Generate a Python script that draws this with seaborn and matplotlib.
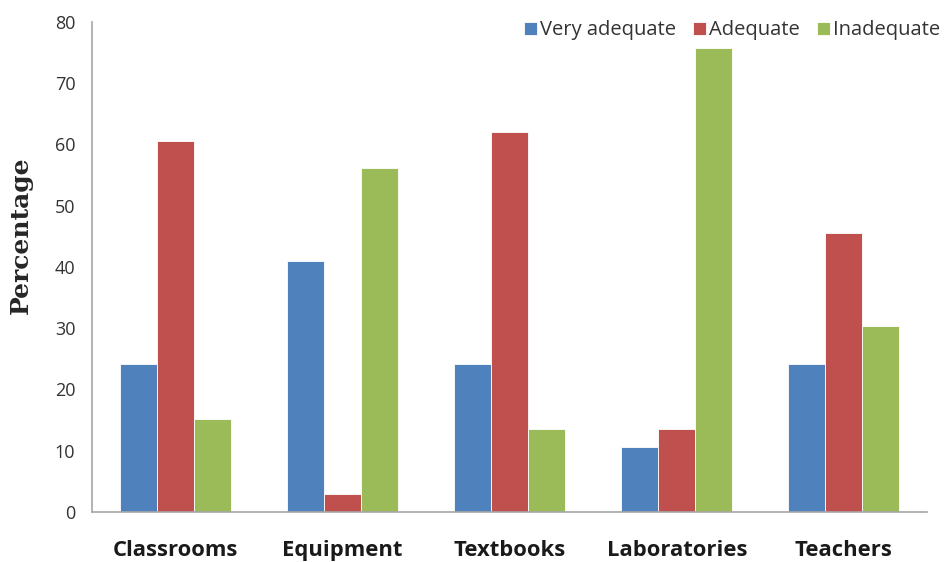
import matplotlib
matplotlib.use("Agg")
import matplotlib.pyplot as plt
import seaborn as sns
import pandas as pd

categories = ["Classrooms", "Equipment", "Textbooks", "Laboratories", "Teachers"]
series = ["Very adequate", "Adequate", "Inadequate"]
very_adequate = [24.2, 40.9, 24.2, 10.6, 24.2]
adequate = [60.6, 3.0, 62.1, 13.6, 45.5]
inadequate = [15.2, 56.1, 13.6, 75.8, 30.3]
colors = ["#4F81BD", "#C0504D", "#9BBB59"]
y_ticks = [0, 10, 20, 30, 40, 50, 60, 70, 80]

rows = []
for name, vals in zip(series, [very_adequate, adequate, inadequate]):
    for c, v in zip(categories, vals):
        rows.append({"Category": c, "Series": name, "Value": v})
df = pd.DataFrame(rows)

sns.set_theme(style="white")
fig = plt.figure(figsize=(9.46, 5.62), dpi=100)
ax = fig.add_axes([0.0973, 0.089, 0.883, 0.872])

sns.barplot(data=df, x="Category", y="Value", hue="Series", order=categories,
            hue_order=series, palette=colors, width=0.665, saturation=1,
            edgecolor="white", linewidth=0.6, ax=ax)

ax.set_xlim(-0.5, 4.5)
ax.set_ylim(0, 80)
ax.set_yticks(y_ticks)
ax.set_yticklabels([str(t) for t in y_ticks], fontsize=13, color="#333333",
                   family="Open Sans")
ax.set_xticks(range(len(categories)))
ax.set_xticklabels(categories, fontsize=15.8, fontweight="bold", color="#1a1a1a",
                   family="Open Sans")
ax.tick_params(axis="x", pad=20, length=0)
ax.tick_params(axis="y", pad=12, length=0)
ax.set_xlabel("")
ax.set_ylabel("Percentage", fontsize=18, fontweight="bold", family="DejaVu Serif")
ax.yaxis.set_label_coords(-0.071, 0.565)
for s in ["top", "right"]:
    ax.spines[s].set_visible(False)
for s in ["left", "bottom"]:
    ax.spines[s].set_color("#A6A6A6")
    ax.spines[s].set_linewidth(1.2)

leg = ax.legend(loc="upper right", bbox_to_anchor=(1.037, 1.04), ncol=3, frameon=False,
                handlelength=0.65, handleheight=0.65, handletextpad=0.15,
                columnspacing=0.85, prop={"family": "Open Sans", "size": 14.5})
for t in leg.get_texts():
    t.set_color("#333333")

fig.savefig("out.png", dpi=100)
